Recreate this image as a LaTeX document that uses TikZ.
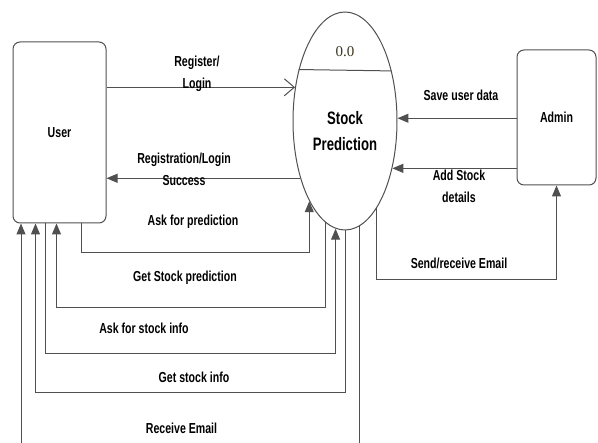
\documentclass[tikz,border=0pt]{standalone}
\usepackage{fontspec}
\setmainfont{Liberation Sans}[FakeStretch=0.73]
\newfontfamily\numfont{Liberation Serif}
\usetikzlibrary{shapes.geometric,arrows.meta,calc}
\definecolor{linegray}{HTML}{505050}
\definecolor{numcolor}{HTML}{3A3420}

\begin{document}
\begin{tikzpicture}[x=1pt,y=-1pt,
  entity/.style={draw=linegray, line width=1pt, rounded corners=7pt,
                 inner sep=0pt, font=\bfseries\fontsize{14.5}{18}\selectfont},
  process/.style={ellipse, draw=linegray, line width=1pt,
                  minimum width=104pt, minimum height=218pt, inner sep=0pt},
  flow/.style={draw=linegray, line width=1pt,
               -{Triangle[length=11pt,width=9pt]}},
  openflow/.style={draw=linegray, line width=1pt,
                   -{Straight Barb[length=10pt,width=17pt]}},
  plain/.style={draw=linegray, line width=1pt},
  lbl/.style={font=\bfseries\fontsize{14.5}{22}\selectfont, align=center, inner sep=0pt},
  title/.style={font=\bfseries\fontsize{18}{26}\selectfont, align=center, inner sep=0pt}
]
\useasboundingbox (0,0) rectangle (598,443);

% external entities and the process
\node[entity, minimum width=93pt, minimum height=181pt] (user) at (59.5,132.5) {User};
\node[entity, minimum width=79pt, minimum height=135pt] (admin) at (556.5,117.5) {Admin};
\node[process] (sp) at (345,121) {};
\draw[plain] (sp.132.7) -- (sp.47.3);
\node[inner sep=0pt, font=\numfont\fontsize{15}{18}\selectfont, text=numcolor] (num) at (345,52) {0.0};
\node[title] (sptext) at (345,131) {Stock\\Prediction};

% user <-> process, side flows
\draw[openflow] (sp.146.4 -| user.east) -- (sp.146.4);
\draw[flow] (sp.232.8) -- (sp.232.8 -| user.east);

% admin -> process
\draw[flow] (sp.3.3 -| admin.west) -- (sp.3.3);
\draw[flow] (sp.315.7 -| admin.west) -- (sp.315.7);

% process -> admin (email)
\draw[flow] (sp.290.4) -- ++(0,71) -| (admin.south);

% flows below the user box
\draw[flow] ([xshift=69pt]user.south west) -- ++(0,29) -| (sp.246);
\draw[flow] (sp.259.4) -- ++(0,85.5) -| ([xshift=44pt]user.south west);
\draw[flow] ([xshift=33pt]user.south west) -- ++(0,130) -| (sp.265.2);
\draw[flow] (sp.270.5) -- ++(0,162) -| ([xshift=23pt]user.south west);

% receive email, running off the bottom edge
\coordinate (mailR) at (360,443);
\coordinate (mailL) at (21,443);
\draw[plain] (sp.278.2) -- (sp.278.2 |- mailR);
\draw[flow] (mailL) -- (mailL |- user.south);

% flow labels
\node[lbl] (l1) at (197,74) {Register/\\Login};
\node[lbl] (l2) at (184,169) {Registration/Login\\Success};
\node[lbl] (l3) at (193,222) {Ask for prediction};
\node[lbl] (l4) at (185,278) {Get Stock prediction};
\node[lbl] (l5) at (144,328) {Ask for stock info};
\node[lbl] (l6) at (194,377) {Get stock info};
\node[lbl] (l7) at (181.5,428) {Receive Email};
\node[lbl] (l8) at (461,95) {Save user data};
\node[lbl] (l9) at (459,186) {Add Stock\\details};
\node[lbl] (l10) at (459,263) {Send/receive Email};
\end{tikzpicture}
\end{document}
